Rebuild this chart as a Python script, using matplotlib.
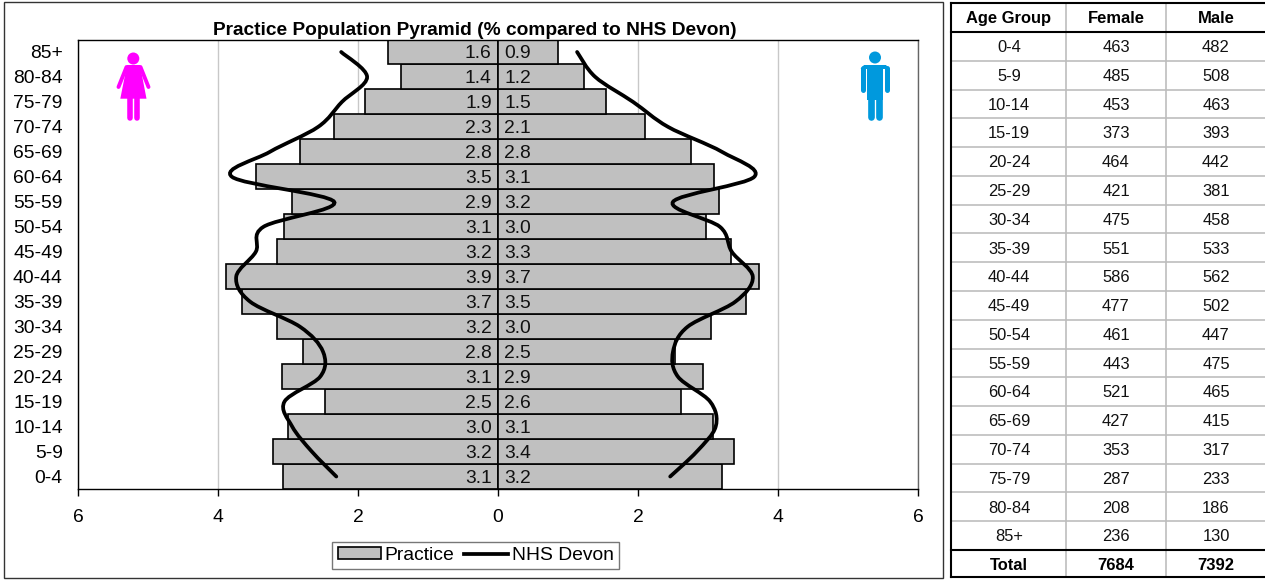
import matplotlib
matplotlib.use('Agg')
import matplotlib.pyplot as plt
from matplotlib.patches import Patch, Circle, Polygon, Rectangle
from matplotlib.lines import Line2D
from matplotlib.path import Path
from matplotlib.patches import PathPatch
from matplotlib.ticker import FuncFormatter

plt.rcParams['font.family'] = ['Liberation Sans', 'DejaVu Sans']

# Data, youngest band first
age_groups = ['0-4', '5-9', '10-14', '15-19', '20-24', '25-29', '30-34', '35-39', '40-44',
              '45-49', '50-54', '55-59', '60-64', '65-69', '70-74', '75-79', '80-84', '85+']
female_pct = [3.07, 3.22, 3.00, 2.47, 3.08, 2.79, 3.16, 3.66, 3.89,
              3.16, 3.06, 2.94, 3.46, 2.83, 2.34, 1.90, 1.38, 1.57]
male_pct = [3.20, 3.37, 3.07, 2.61, 2.93, 2.53, 3.04, 3.54, 3.73,
            3.33, 2.97, 3.16, 3.08, 2.75, 2.10, 1.54, 1.23, 0.86]
devon_female = [2.31, 2.66, 2.94, 3.05, 2.54, 2.50, 2.83, 3.54, 3.74,
                3.46, 3.35, 2.34, 3.80, 3.26, 2.57, 2.23, 1.87, 2.24]
devon_male = [2.46, 2.84, 3.11, 3.03, 2.57, 2.50, 2.71, 3.39, 3.64,
              3.34, 3.17, 2.50, 3.66, 3.20, 2.43, 1.93, 1.39, 1.13]

female_counts = [463, 485, 453, 373, 464, 421, 475, 551, 586, 477, 461, 443, 521, 427, 353, 287, 208, 236]
male_counts = [482, 508, 463, 393, 442, 381, 458, 533, 562, 502, 447, 475, 465, 415, 317, 233, 186, 130]
total_female = 7684
total_male = 7392

W, H = 1265, 580
fig = plt.figure(figsize=(W / 100, H / 100), dpi=100)


def smooth_line(ax, xs, ys, **kw):
    # Excel style smoothed line, a bezier through every point
    verts = [(xs[0], ys[0])]
    codes = [Path.MOVETO]
    n = len(xs)
    for i in range(n - 1):
        x0, y0 = (xs[i - 1], ys[i - 1]) if i > 0 else (xs[i], ys[i])
        x1, y1 = xs[i], ys[i]
        x2, y2 = xs[i + 1], ys[i + 1]
        x3, y3 = (xs[i + 2], ys[i + 2]) if i + 2 < n else (x2, y2)
        verts += [(x1 + (x2 - x0) / 6, y1 + (y2 - y0) / 6),
                  (x2 - (x3 - x1) / 6, y2 - (y3 - y1) / 6),
                  (x2, y2)]
        codes += [Path.CURVE4] * 3
    ax.add_patch(PathPatch(Path(verts, codes), fill=False, **kw))


# Chart
ax = fig.add_axes([78 / W, 1 - 489 / H, 840 / W, 449.5 / H])
pos = list(range(len(age_groups)))
ax.barh(pos, [-v for v in female_pct], height=1, color='#C0C0C0', edgecolor='black', linewidth=1.2, zorder=2)
ax.barh(pos, male_pct, height=1, color='#C0C0C0', edgecolor='black', linewidth=1.2, zorder=2)
smooth_line(ax, [-v for v in devon_female], pos, edgecolor='black', linewidth=2.7, capstyle='round', zorder=4)
smooth_line(ax, devon_male, pos, edgecolor='black', linewidth=2.7, capstyle='round', zorder=4)

for p, f, m in zip(pos, female_pct, male_pct):
    ax.annotate(f'{f:.1f}', (0, p), xytext=(-4.5, 0), textcoords='offset points', ha='right', va='center_baseline',
                fontsize=13.9, color='#111111', zorder=5)
    ax.annotate(f'{m:.1f}', (0, p), xytext=(4.5, 0), textcoords='offset points', ha='left', va='center_baseline',
                fontsize=13.9, color='#111111', zorder=5)

ax.set_xlim(-6, 6)
ax.set_ylim(-0.5, 17.5)
ax.set_xticks([-6, -4, -2, 0, 2, 4, 6])
ax.xaxis.set_major_formatter(FuncFormatter(lambda v, _: f'{abs(v):.0f}'))
ax.set_yticks(pos)
ax.set_yticklabels(age_groups)
ax.tick_params(axis='x', length=5, width=1, pad=9.5, labelsize=13.9)
ax.tick_params(axis='y', length=0, pad=11, labelsize=13.9)
ax.grid(axis='x', color='#C8C8C8', linewidth=1, zorder=0)
ax.set_axisbelow(True)
for s in ax.spines.values():
    s.set_linewidth(1)
ax.spines['right'].set_color('#666666')
ax.set_title('Practice Population Pyramid (% compared to NHS Devon)', fontsize=13.8, fontweight='bold',
             x=0.4726, pad=3.5)

handles = [Patch(facecolor='#C0C0C0', edgecolor='black', linewidth=1.2, label='Practice'),
           Line2D([0], [0], color='black', linewidth=2.7, label='NHS Devon')]
fig.legend(handles=handles, ncol=2, loc='center', bbox_to_anchor=(475.5 / W, 1 - 555.5 / H),
           fontsize=13.9, frameon=True, fancybox=False, edgecolor='#777777', framealpha=1,
           handlelength=2.25, handleheight=0.62, handletextpad=0.2, columnspacing=0.5,
           borderpad=0.28, borderaxespad=0)

# Overlay in pixels for frames, icons and the table
ov = fig.add_axes([0, 0, 1, 1], zorder=10)
ov.set_xlim(0, W)
ov.set_ylim(H, 0)
ov.axis('off')
ov.patch.set_alpha(0)
ov.add_patch(Rectangle((3.5, 1.5), 939.5, 576.5, fill=False, edgecolor='#333333', linewidth=1))

# Woman
pink = '#FF00FF'
ov.add_patch(Circle((133.3, 58.5), 6, color=pink, linewidth=0))
ov.add_patch(Polygon([(127, 65), (140, 65), (146.5, 98.7), (120.3, 98.7)], color=pink, linewidth=0))
ov.plot([126.5, 118.5], [67, 87], color=pink, linewidth=2.8, solid_capstyle='round')
ov.plot([140.5, 148.5], [67, 87], color=pink, linewidth=2.8, solid_capstyle='round')
ov.plot([129.6, 129.6], [98, 117.5], color=pink, linewidth=4, solid_capstyle='round')
ov.plot([137, 137], [98, 117.5], color=pink, linewidth=4, solid_capstyle='round')

# Man
blue = '#0099DD'
ov.add_patch(Circle((875, 57.5), 6, color=blue, linewidth=0))
ov.add_patch(Polygon([(867, 65), (883, 65), (883, 100), (867, 100)], color=blue, linewidth=0))
ov.add_patch(Polygon([(864, 65), (886, 65), (889.5, 69), (860.5, 69)], color=blue, linewidth=0))
ov.plot([863, 863], [68, 89.5], color=blue, linewidth=3.6, solid_capstyle='round')
ov.plot([887, 887], [68, 89.5], color=blue, linewidth=3.6, solid_capstyle='round')
ov.plot([870.6, 870.6], [95, 117], color=blue, linewidth=4.8, solid_capstyle='round')
ov.plot([879.4, 879.4], [95, 117], color=blue, linewidth=4.8, solid_capstyle='round')

# Table
col_x = [951, 1066, 1166, 1265]
col_mid = [1009, 1116, 1216]
top, head_bot, total_top, bottom = 3, 32, 550, 577
row_h = (total_top - head_bot) / len(age_groups)
grey = '#BDBDBD'
for x in col_x[1:3]:
    ov.plot([x, x], [top, bottom], color=grey, linewidth=1.2)
for i in range(1, len(age_groups)):
    y = head_bot + i * row_h
    ov.plot([951, 1265], [y, y], color=grey, linewidth=1.2)
ov.plot([951, 1265], [top, top], color='black', linewidth=1.5)
ov.plot([951, 1265], [head_bot, head_bot], color='black', linewidth=1.5)
ov.plot([951, 1265], [total_top, total_top], color='black', linewidth=1.5)
ov.plot([951, 1265], [bottom, bottom], color='black', linewidth=1.5)
ov.plot([951, 951], [top, bottom], color='black', linewidth=1.5)

for x, t in zip(col_mid, ['Age Group', 'Female', 'Male']):
    ov.text(x, 18.5, t, ha='center', va='center', fontsize=11.9, fontweight='bold')
for i, (a, f, m) in enumerate(zip(age_groups, female_counts, male_counts)):
    y = head_bot + (i + 0.5) * row_h + 1.2
    for x, t in zip(col_mid, [a, f, m]):
        ov.text(x, y, str(t), ha='center', va='center', fontsize=11.9, color='#111111')
for x, t in zip(col_mid, ['Total', total_female, total_male]):
    ov.text(x, 565.5, str(t), ha='center', va='center', fontsize=11.9, fontweight='bold')

fig.savefig('out.png', dpi=100)
